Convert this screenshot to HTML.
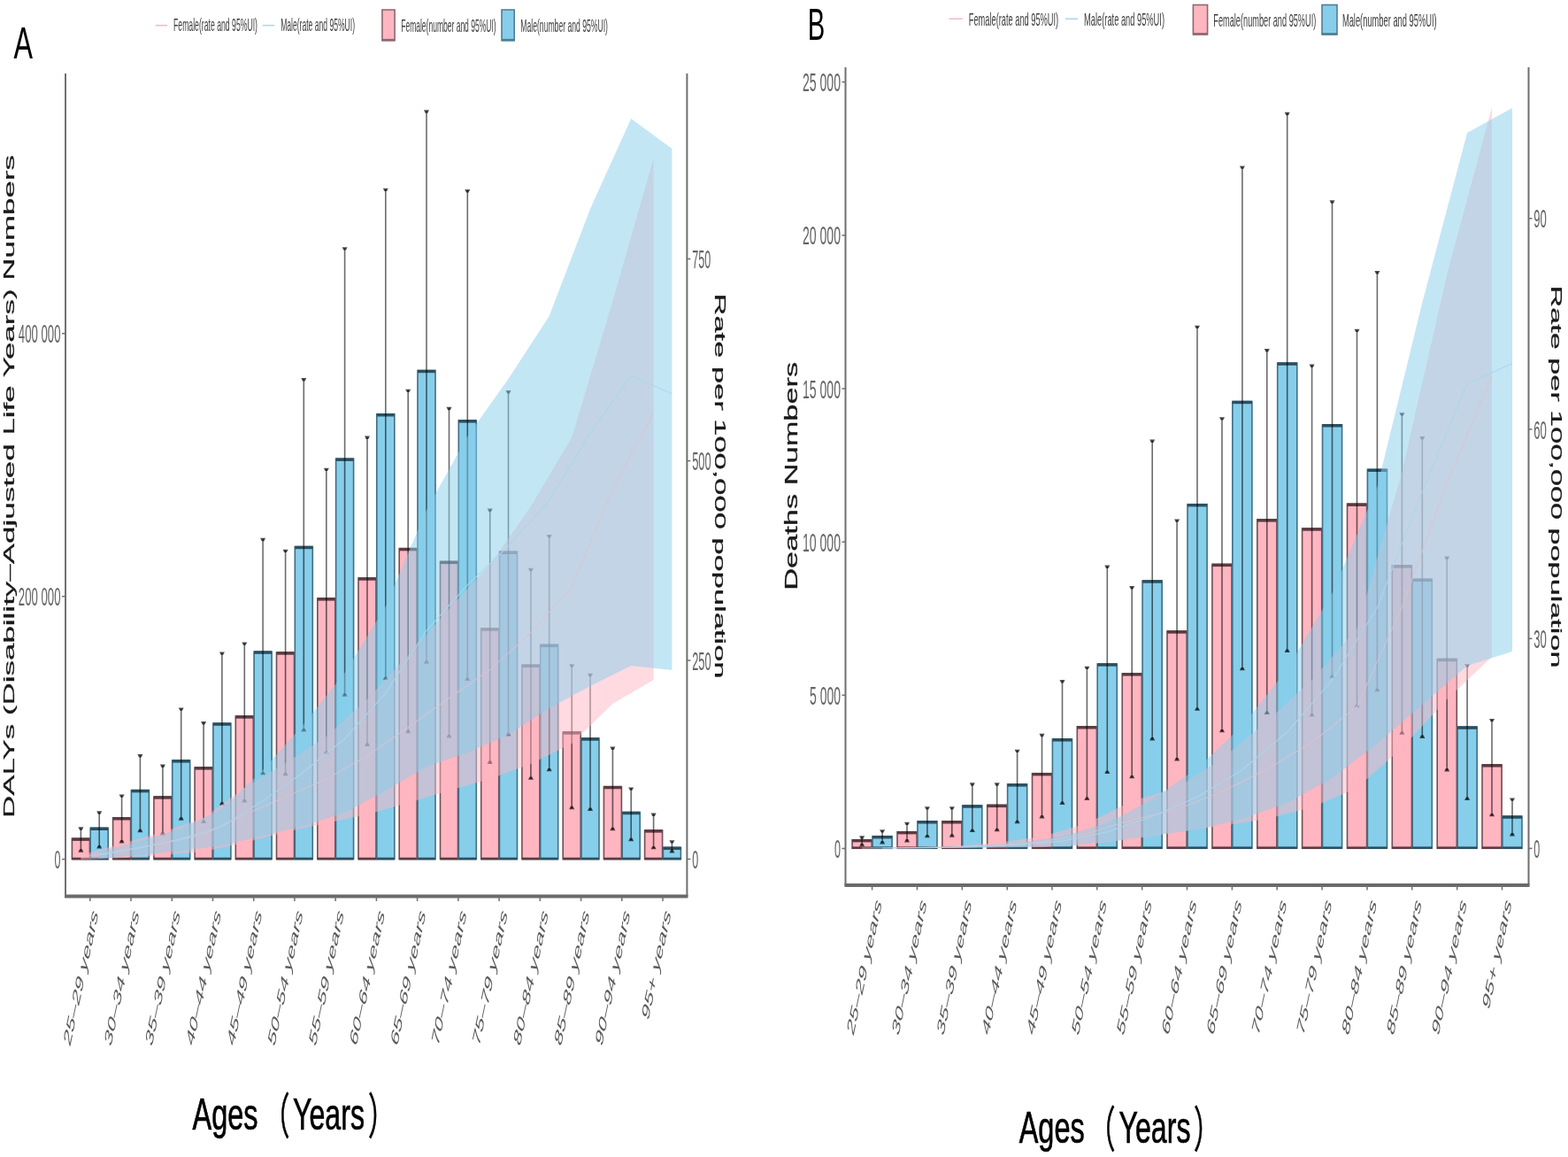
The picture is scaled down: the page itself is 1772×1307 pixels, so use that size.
<!DOCTYPE html><html><head><meta charset="utf-8"><title>Figure</title><style>html,body{margin:0;padding:0;background:#fff;}svg{display:block;filter:blur(0.55px);}</style></head><body>
<svg width="1772" height="1307" viewBox="0 0 1772 1307" font-family="'Liberation Sans', sans-serif">
<rect width="1772" height="1307" fill="#fff"/>
<g>
<rect x="81.4" y="947.2" width="20" height="23.4" fill="#FFB6C1" stroke="#6e4f56" stroke-width="1.6"/>
<line x1="81.4" y1="948.2" x2="101.4" y2="948.2" stroke="#5a3c42" stroke-width="3.4"/>
<line x1="81.4" y1="970" x2="101.4" y2="970" stroke="#5a3c42" stroke-width="2.6"/>
<rect x="102.2" y="935.3" width="20" height="35.3" fill="#87CEEB" stroke="#3f6f84" stroke-width="1.6"/>
<line x1="102.2" y1="936.3" x2="122.2" y2="936.3" stroke="#2c4f5e" stroke-width="3.4"/>
<line x1="102.2" y1="970" x2="122.2" y2="970" stroke="#2c4f5e" stroke-width="2.6"/>
<rect x="127.6" y="923.8" width="20" height="46.8" fill="#FFB6C1" stroke="#6e4f56" stroke-width="1.6"/>
<line x1="127.6" y1="924.8" x2="147.6" y2="924.8" stroke="#5a3c42" stroke-width="3.4"/>
<line x1="127.6" y1="970" x2="147.6" y2="970" stroke="#5a3c42" stroke-width="2.6"/>
<rect x="148.4" y="892.6" width="20" height="78" fill="#87CEEB" stroke="#3f6f84" stroke-width="1.6"/>
<line x1="148.4" y1="893.6" x2="168.4" y2="893.6" stroke="#2c4f5e" stroke-width="3.4"/>
<line x1="148.4" y1="970" x2="168.4" y2="970" stroke="#2c4f5e" stroke-width="2.6"/>
<rect x="173.9" y="900" width="20" height="70.6" fill="#FFB6C1" stroke="#6e4f56" stroke-width="1.6"/>
<line x1="173.9" y1="901" x2="193.9" y2="901" stroke="#5a3c42" stroke-width="3.4"/>
<line x1="173.9" y1="970" x2="193.9" y2="970" stroke="#5a3c42" stroke-width="2.6"/>
<rect x="194.7" y="858.9" width="20" height="111.7" fill="#87CEEB" stroke="#3f6f84" stroke-width="1.6"/>
<line x1="194.7" y1="859.9" x2="214.7" y2="859.9" stroke="#2c4f5e" stroke-width="3.4"/>
<line x1="194.7" y1="970" x2="214.7" y2="970" stroke="#2c4f5e" stroke-width="2.6"/>
<rect x="220.1" y="866.9" width="20" height="103.7" fill="#FFB6C1" stroke="#6e4f56" stroke-width="1.6"/>
<line x1="220.1" y1="867.9" x2="240.1" y2="867.9" stroke="#5a3c42" stroke-width="3.4"/>
<line x1="220.1" y1="970" x2="240.1" y2="970" stroke="#5a3c42" stroke-width="2.6"/>
<rect x="240.9" y="817.1" width="20" height="153.5" fill="#87CEEB" stroke="#3f6f84" stroke-width="1.6"/>
<line x1="240.9" y1="818.1" x2="260.9" y2="818.1" stroke="#2c4f5e" stroke-width="3.4"/>
<line x1="240.9" y1="970" x2="260.9" y2="970" stroke="#2c4f5e" stroke-width="2.6"/>
<rect x="266.3" y="809" width="20" height="161.6" fill="#FFB6C1" stroke="#6e4f56" stroke-width="1.6"/>
<line x1="266.3" y1="810" x2="286.3" y2="810" stroke="#5a3c42" stroke-width="3.4"/>
<line x1="266.3" y1="970" x2="286.3" y2="970" stroke="#5a3c42" stroke-width="2.6"/>
<rect x="287.1" y="736.1" width="20" height="234.5" fill="#87CEEB" stroke="#3f6f84" stroke-width="1.6"/>
<line x1="287.1" y1="737.1" x2="307.1" y2="737.1" stroke="#2c4f5e" stroke-width="3.4"/>
<line x1="287.1" y1="970" x2="307.1" y2="970" stroke="#2c4f5e" stroke-width="2.6"/>
<rect x="312.5" y="737" width="20" height="233.6" fill="#FFB6C1" stroke="#6e4f56" stroke-width="1.6"/>
<line x1="312.5" y1="738" x2="332.6" y2="738" stroke="#5a3c42" stroke-width="3.4"/>
<line x1="312.5" y1="970" x2="332.6" y2="970" stroke="#5a3c42" stroke-width="2.6"/>
<rect x="333.3" y="617.5" width="20" height="353.1" fill="#87CEEB" stroke="#3f6f84" stroke-width="1.6"/>
<line x1="333.3" y1="618.5" x2="353.4" y2="618.5" stroke="#2c4f5e" stroke-width="3.4"/>
<line x1="333.3" y1="970" x2="353.4" y2="970" stroke="#2c4f5e" stroke-width="2.6"/>
<rect x="358.8" y="675.9" width="20" height="294.7" fill="#FFB6C1" stroke="#6e4f56" stroke-width="1.6"/>
<line x1="358.8" y1="676.9" x2="378.8" y2="676.9" stroke="#5a3c42" stroke-width="3.4"/>
<line x1="358.8" y1="970" x2="378.8" y2="970" stroke="#5a3c42" stroke-width="2.6"/>
<rect x="379.6" y="518.2" width="20" height="452.4" fill="#87CEEB" stroke="#3f6f84" stroke-width="1.6"/>
<line x1="379.6" y1="519.2" x2="399.6" y2="519.2" stroke="#2c4f5e" stroke-width="3.4"/>
<line x1="379.6" y1="970" x2="399.6" y2="970" stroke="#2c4f5e" stroke-width="2.6"/>
<rect x="405" y="653" width="20" height="317.6" fill="#FFB6C1" stroke="#6e4f56" stroke-width="1.6"/>
<line x1="405" y1="654" x2="425" y2="654" stroke="#5a3c42" stroke-width="3.4"/>
<line x1="405" y1="970" x2="425" y2="970" stroke="#5a3c42" stroke-width="2.6"/>
<rect x="425.8" y="467.8" width="20" height="502.8" fill="#87CEEB" stroke="#3f6f84" stroke-width="1.6"/>
<line x1="425.8" y1="468.8" x2="445.8" y2="468.8" stroke="#2c4f5e" stroke-width="3.4"/>
<line x1="425.8" y1="970" x2="445.8" y2="970" stroke="#2c4f5e" stroke-width="2.6"/>
<rect x="451.2" y="619.6" width="20" height="351" fill="#FFB6C1" stroke="#6e4f56" stroke-width="1.6"/>
<line x1="451.2" y1="620.6" x2="471.2" y2="620.6" stroke="#5a3c42" stroke-width="3.4"/>
<line x1="451.2" y1="970" x2="471.2" y2="970" stroke="#5a3c42" stroke-width="2.6"/>
<rect x="472" y="418.5" width="20" height="552.1" fill="#87CEEB" stroke="#3f6f84" stroke-width="1.6"/>
<line x1="472" y1="419.5" x2="492" y2="419.5" stroke="#2c4f5e" stroke-width="3.4"/>
<line x1="472" y1="970" x2="492" y2="970" stroke="#2c4f5e" stroke-width="2.6"/>
<rect x="497.5" y="634.4" width="20" height="336.2" fill="#FFB6C1" stroke="#6e4f56" stroke-width="1.6"/>
<line x1="497.5" y1="635.4" x2="517.5" y2="635.4" stroke="#5a3c42" stroke-width="3.4"/>
<line x1="497.5" y1="970" x2="517.5" y2="970" stroke="#5a3c42" stroke-width="2.6"/>
<rect x="518.3" y="474.9" width="20" height="495.7" fill="#87CEEB" stroke="#3f6f84" stroke-width="1.6"/>
<line x1="518.3" y1="475.9" x2="538.3" y2="475.9" stroke="#2c4f5e" stroke-width="3.4"/>
<line x1="518.3" y1="970" x2="538.3" y2="970" stroke="#2c4f5e" stroke-width="2.6"/>
<rect x="543.7" y="710" width="20" height="260.6" fill="#FFB6C1" stroke="#6e4f56" stroke-width="1.6"/>
<line x1="543.7" y1="711" x2="563.7" y2="711" stroke="#5a3c42" stroke-width="3.4"/>
<line x1="543.7" y1="970" x2="563.7" y2="970" stroke="#5a3c42" stroke-width="2.6"/>
<rect x="564.5" y="623.3" width="20" height="347.3" fill="#87CEEB" stroke="#3f6f84" stroke-width="1.6"/>
<line x1="564.5" y1="624.3" x2="584.5" y2="624.3" stroke="#2c4f5e" stroke-width="3.4"/>
<line x1="564.5" y1="970" x2="584.5" y2="970" stroke="#2c4f5e" stroke-width="2.6"/>
<rect x="589.9" y="751.3" width="20" height="219.3" fill="#FFB6C1" stroke="#6e4f56" stroke-width="1.6"/>
<line x1="589.9" y1="752.3" x2="609.9" y2="752.3" stroke="#5a3c42" stroke-width="3.4"/>
<line x1="589.9" y1="970" x2="609.9" y2="970" stroke="#5a3c42" stroke-width="2.6"/>
<rect x="610.7" y="728.4" width="20" height="242.2" fill="#87CEEB" stroke="#3f6f84" stroke-width="1.6"/>
<line x1="610.7" y1="729.4" x2="630.7" y2="729.4" stroke="#2c4f5e" stroke-width="3.4"/>
<line x1="610.7" y1="970" x2="630.7" y2="970" stroke="#2c4f5e" stroke-width="2.6"/>
<rect x="636.2" y="827" width="20" height="143.6" fill="#FFB6C1" stroke="#6e4f56" stroke-width="1.6"/>
<line x1="636.2" y1="828" x2="656.2" y2="828" stroke="#5a3c42" stroke-width="3.4"/>
<line x1="636.2" y1="970" x2="656.2" y2="970" stroke="#5a3c42" stroke-width="2.6"/>
<rect x="657" y="834" width="20" height="136.6" fill="#87CEEB" stroke="#3f6f84" stroke-width="1.6"/>
<line x1="657" y1="835" x2="677" y2="835" stroke="#2c4f5e" stroke-width="3.4"/>
<line x1="657" y1="970" x2="677" y2="970" stroke="#2c4f5e" stroke-width="2.6"/>
<rect x="682.4" y="888.6" width="20" height="82" fill="#FFB6C1" stroke="#6e4f56" stroke-width="1.6"/>
<line x1="682.4" y1="889.6" x2="702.4" y2="889.6" stroke="#5a3c42" stroke-width="3.4"/>
<line x1="682.4" y1="970" x2="702.4" y2="970" stroke="#5a3c42" stroke-width="2.6"/>
<rect x="703.2" y="917.5" width="20" height="53.1" fill="#87CEEB" stroke="#3f6f84" stroke-width="1.6"/>
<line x1="703.2" y1="918.5" x2="723.2" y2="918.5" stroke="#2c4f5e" stroke-width="3.4"/>
<line x1="703.2" y1="970" x2="723.2" y2="970" stroke="#2c4f5e" stroke-width="2.6"/>
<rect x="728.6" y="937.9" width="20" height="32.7" fill="#FFB6C1" stroke="#6e4f56" stroke-width="1.6"/>
<line x1="728.6" y1="938.9" x2="748.6" y2="938.9" stroke="#5a3c42" stroke-width="3.4"/>
<line x1="728.6" y1="970" x2="748.6" y2="970" stroke="#5a3c42" stroke-width="2.6"/>
<rect x="749.4" y="957.3" width="20" height="13.3" fill="#87CEEB" stroke="#3f6f84" stroke-width="1.6"/>
<line x1="749.4" y1="958.3" x2="769.4" y2="958.3" stroke="#2c4f5e" stroke-width="3.4"/>
<line x1="749.4" y1="970" x2="769.4" y2="970" stroke="#2c4f5e" stroke-width="2.6"/>
</g>
<g stroke="#000" stroke-opacity="0.58" fill="#000" fill-opacity="0.68">
<line x1="91.4" y1="935.3" x2="91.4" y2="961.7" stroke-width="1.6"/>
<path d="M88.4 934.3h6l-1.6 3.4h-2.8z" stroke="none"/>
<path d="M88.4 962.7h6l-1.6 -3.4h-2.8z" stroke="none"/>
<line x1="112.2" y1="917.3" x2="112.2" y2="957.5" stroke-width="1.6"/>
<path d="M109.2 916.3h6l-1.6 3.4h-2.8z" stroke="none"/>
<path d="M109.2 958.5h6l-1.6 -3.4h-2.8z" stroke="none"/>
<line x1="137.6" y1="898.4" x2="137.6" y2="951.4" stroke-width="1.6"/>
<path d="M134.6 897.4h6l-1.6 3.4h-2.8z" stroke="none"/>
<path d="M134.6 952.4h6l-1.6 -3.4h-2.8z" stroke="none"/>
<line x1="158.4" y1="853.1" x2="158.4" y2="939.2" stroke-width="1.6"/>
<path d="M155.4 852.1h6l-1.6 3.4h-2.8z" stroke="none"/>
<path d="M155.4 940.2h6l-1.6 -3.4h-2.8z" stroke="none"/>
<line x1="183.9" y1="864.6" x2="183.9" y2="942.4" stroke-width="1.6"/>
<path d="M180.9 863.6h6l-1.6 3.4h-2.8z" stroke="none"/>
<path d="M180.9 943.4h6l-1.6 -3.4h-2.8z" stroke="none"/>
<line x1="204.7" y1="800.4" x2="204.7" y2="925.7" stroke-width="1.6"/>
<path d="M201.7 799.4h6l-1.6 3.4h-2.8z" stroke="none"/>
<path d="M201.7 926.7h6l-1.6 -3.4h-2.8z" stroke="none"/>
<line x1="230.1" y1="816.1" x2="230.1" y2="928.9" stroke-width="1.6"/>
<path d="M227.1 815.1h6l-1.6 3.4h-2.8z" stroke="none"/>
<path d="M227.1 929.9h6l-1.6 -3.4h-2.8z" stroke="none"/>
<line x1="250.9" y1="737.4" x2="250.9" y2="908.6" stroke-width="1.6"/>
<path d="M247.9 736.4h6l-1.6 3.4h-2.8z" stroke="none"/>
<path d="M247.9 909.6h6l-1.6 -3.4h-2.8z" stroke="none"/>
<line x1="276.3" y1="726.4" x2="276.3" y2="905.5" stroke-width="1.6"/>
<path d="M273.3 725.4h6l-1.6 3.4h-2.8z" stroke="none"/>
<path d="M273.3 906.5h6l-1.6 -3.4h-2.8z" stroke="none"/>
<line x1="297.1" y1="608.8" x2="297.1" y2="874.3" stroke-width="1.6"/>
<path d="M294.1 607.8h6l-1.6 3.4h-2.8z" stroke="none"/>
<path d="M294.1 875.3h6l-1.6 -3.4h-2.8z" stroke="none"/>
<line x1="322.6" y1="621.7" x2="322.6" y2="875.2" stroke-width="1.6"/>
<path d="M319.6 620.7h6l-1.6 3.4h-2.8z" stroke="none"/>
<path d="M319.6 876.2h6l-1.6 -3.4h-2.8z" stroke="none"/>
<line x1="343.3" y1="428" x2="343.3" y2="825.4" stroke-width="1.6"/>
<path d="M340.3 427h6l-1.6 3.4h-2.8z" stroke="none"/>
<path d="M340.3 826.4h6l-1.6 -3.4h-2.8z" stroke="none"/>
<line x1="368.8" y1="529.7" x2="368.8" y2="850.8" stroke-width="1.6"/>
<path d="M365.8 528.7h6l-1.6 3.4h-2.8z" stroke="none"/>
<path d="M365.8 851.8h6l-1.6 -3.4h-2.8z" stroke="none"/>
<line x1="389.6" y1="280.2" x2="389.6" y2="785.7" stroke-width="1.6"/>
<path d="M386.6 279.2h6l-1.6 3.4h-2.8z" stroke="none"/>
<path d="M386.6 786.7h6l-1.6 -3.4h-2.8z" stroke="none"/>
<line x1="415" y1="493.5" x2="415" y2="842" stroke-width="1.6"/>
<path d="M412 492.5h6l-1.6 3.4h-2.8z" stroke="none"/>
<path d="M412 843h6l-1.6 -3.4h-2.8z" stroke="none"/>
<line x1="435.8" y1="213.7" x2="435.8" y2="767" stroke-width="1.6"/>
<path d="M432.8 212.7h6l-1.6 3.4h-2.8z" stroke="none"/>
<path d="M432.8 768h6l-1.6 -3.4h-2.8z" stroke="none"/>
<line x1="461.2" y1="440.7" x2="461.2" y2="827.2" stroke-width="1.6"/>
<path d="M458.2 439.7h6l-1.6 3.4h-2.8z" stroke="none"/>
<path d="M458.2 828.2h6l-1.6 -3.4h-2.8z" stroke="none"/>
<line x1="482" y1="125.3" x2="482" y2="748.7" stroke-width="1.6"/>
<path d="M479 124.3h6l-1.6 3.4h-2.8z" stroke="none"/>
<path d="M479 749.7h6l-1.6 -3.4h-2.8z" stroke="none"/>
<line x1="507.5" y1="460.8" x2="507.5" y2="832.5" stroke-width="1.6"/>
<path d="M504.5 459.8h6l-1.6 3.4h-2.8z" stroke="none"/>
<path d="M504.5 833.5h6l-1.6 -3.4h-2.8z" stroke="none"/>
<line x1="528.3" y1="215.1" x2="528.3" y2="768" stroke-width="1.6"/>
<path d="M525.3 214.1h6l-1.6 3.4h-2.8z" stroke="none"/>
<path d="M525.3 769h6l-1.6 -3.4h-2.8z" stroke="none"/>
<line x1="553.7" y1="575.6" x2="553.7" y2="862" stroke-width="1.6"/>
<path d="M550.7 574.6h6l-1.6 3.4h-2.8z" stroke="none"/>
<path d="M550.7 863h6l-1.6 -3.4h-2.8z" stroke="none"/>
<line x1="574.5" y1="442" x2="574.5" y2="830.5" stroke-width="1.6"/>
<path d="M571.5 441h6l-1.6 3.4h-2.8z" stroke="none"/>
<path d="M571.5 831.5h6l-1.6 -3.4h-2.8z" stroke="none"/>
<line x1="599.9" y1="642.8" x2="599.9" y2="879.8" stroke-width="1.6"/>
<path d="M596.9 641.8h6l-1.6 3.4h-2.8z" stroke="none"/>
<path d="M596.9 880.8h6l-1.6 -3.4h-2.8z" stroke="none"/>
<line x1="620.7" y1="605.1" x2="620.7" y2="870.3" stroke-width="1.6"/>
<path d="M617.7 604.1h6l-1.6 3.4h-2.8z" stroke="none"/>
<path d="M617.7 871.3h6l-1.6 -3.4h-2.8z" stroke="none"/>
<line x1="646.2" y1="751.3" x2="646.2" y2="913.2" stroke-width="1.6"/>
<path d="M643.2 750.3h6l-1.6 3.4h-2.8z" stroke="none"/>
<path d="M643.2 914.2h6l-1.6 -3.4h-2.8z" stroke="none"/>
<line x1="667" y1="761.8" x2="667" y2="915" stroke-width="1.6"/>
<path d="M664 760.8h6l-1.6 3.4h-2.8z" stroke="none"/>
<path d="M664 916h6l-1.6 -3.4h-2.8z" stroke="none"/>
<line x1="692.4" y1="844.6" x2="692.4" y2="937.2" stroke-width="1.6"/>
<path d="M689.4 843.6h6l-1.6 3.4h-2.8z" stroke="none"/>
<path d="M689.4 938.2h6l-1.6 -3.4h-2.8z" stroke="none"/>
<line x1="713.2" y1="890.4" x2="713.2" y2="949.2" stroke-width="1.6"/>
<path d="M710.2 889.4h6l-1.6 3.4h-2.8z" stroke="none"/>
<path d="M710.2 950.2h6l-1.6 -3.4h-2.8z" stroke="none"/>
<line x1="738.6" y1="919.6" x2="738.6" y2="958.3" stroke-width="1.6"/>
<path d="M735.6 918.6h6l-1.6 3.4h-2.8z" stroke="none"/>
<path d="M735.6 959.3h6l-1.6 -3.4h-2.8z" stroke="none"/>
<line x1="759.4" y1="950.2" x2="759.4" y2="962.5" stroke-width="1.6"/>
<path d="M756.4 949.2h6l-1.6 3.4h-2.8z" stroke="none"/>
<path d="M756.4 963.5h6l-1.6 -3.4h-2.8z" stroke="none"/>
</g>
<polygon points="91.4,966 137.6,953 183.9,940 230.1,924 276.3,890 322.6,862 368.8,832 415,790 461.2,740 507.5,688 553.7,638 599.9,572 646.2,494 692.4,340 738.6,179 738.6,768 692.4,795 646.2,840 599.9,863 553.7,880 507.5,893 461.2,907 415,920 368.8,930 322.6,940 276.3,952 230.1,962 183.9,966 137.6,969 91.4,971" fill="#FFB6C1" fill-opacity="0.5"/>
<polygon points="112.2,962 158.4,950 204.7,936 250.9,914 297.1,870 343.3,818 389.6,760 435.8,685 482,576 528.3,493 574.5,428 620.7,357 667,236 713.2,134 759.4,168 759.4,757 713.2,752 667,775 620.7,800 574.5,830 528.3,850 482,866 435.8,893 389.6,918 343.3,933 297.1,944 250.9,955 204.7,961 158.4,966 112.2,970" fill="#87CEEB" fill-opacity="0.5"/>
<polyline points="91.4,968.5 137.6,960.8 183.9,952.7 230.1,942.6 276.3,920.4 322.6,900.2 368.8,880 415,853.7 461.2,821.8 507.5,788.5 553.7,756.6 599.9,714.6 646.2,663.5 692.4,552 738.6,466" fill="none" stroke="#dcc3cf" stroke-opacity="0.75" stroke-width="1.2"/>
<polyline points="112.2,965.8 158.4,957.5 204.7,947.8 250.9,933.3 297.1,904.8 343.3,872 389.6,834.3 435.8,782.8 482,712.3 528.3,660.8 574.5,616.9 620.7,565.2 667,489.3 713.2,424.5 759.4,444.8" fill="none" stroke="#a9d7ec" stroke-opacity="0.85" stroke-width="1.2"/>
<g stroke="#6f6f6f" fill="none">
<line x1="74" y1="83" x2="74" y2="1013" stroke-width="2"/>
<line x1="776.4" y1="83" x2="776.4" y2="1013" stroke-width="2"/>
<line x1="73" y1="1012.5" x2="777.4" y2="1012.5" stroke="#6a6a6a" stroke-width="4"/>
<line x1="101.8" y1="1013" x2="101.8" y2="1018" stroke-width="1.5"/>
<line x1="148" y1="1013" x2="148" y2="1018" stroke-width="1.5"/>
<line x1="194.3" y1="1013" x2="194.3" y2="1018" stroke-width="1.5"/>
<line x1="240.5" y1="1013" x2="240.5" y2="1018" stroke-width="1.5"/>
<line x1="286.7" y1="1013" x2="286.7" y2="1018" stroke-width="1.5"/>
<line x1="332.9" y1="1013" x2="332.9" y2="1018" stroke-width="1.5"/>
<line x1="379.2" y1="1013" x2="379.2" y2="1018" stroke-width="1.5"/>
<line x1="425.4" y1="1013" x2="425.4" y2="1018" stroke-width="1.5"/>
<line x1="471.6" y1="1013" x2="471.6" y2="1018" stroke-width="1.5"/>
<line x1="517.9" y1="1013" x2="517.9" y2="1018" stroke-width="1.5"/>
<line x1="564.1" y1="1013" x2="564.1" y2="1018" stroke-width="1.5"/>
<line x1="610.3" y1="1013" x2="610.3" y2="1018" stroke-width="1.5"/>
<line x1="656.6" y1="1013" x2="656.6" y2="1018" stroke-width="1.5"/>
<line x1="702.8" y1="1013" x2="702.8" y2="1018" stroke-width="1.5"/>
<line x1="749" y1="1013" x2="749" y2="1018" stroke-width="1.5"/>
<line x1="70" y1="970.6" x2="74" y2="970.6" stroke-width="1.5"/>
<line x1="70" y1="673.7" x2="74" y2="673.7" stroke-width="1.5"/>
<line x1="70" y1="376.7" x2="74" y2="376.7" stroke-width="1.5"/>
<line x1="776.4" y1="970.5" x2="780.4" y2="970.5" stroke-width="1.5"/>
<line x1="776.4" y1="746" x2="780.4" y2="746" stroke-width="1.5"/>
<line x1="776.4" y1="520.6" x2="780.4" y2="520.6" stroke-width="1.5"/>
<line x1="776.4" y1="292.5" x2="780.4" y2="292.5" stroke-width="1.5"/>
</g>
<text x="68.5" y="980.9" font-size="29" text-anchor="end" fill="#646464" textLength="7" lengthAdjust="spacingAndGlyphs" >0</text>
<text x="68.5" y="684" font-size="29" text-anchor="end" fill="#646464" textLength="47.7" lengthAdjust="spacingAndGlyphs" >200 000</text>
<text x="68.5" y="387" font-size="29" text-anchor="end" fill="#646464" textLength="47.7" lengthAdjust="spacingAndGlyphs" >400 000</text>
<text x="782.2" y="981.1" font-size="30" text-anchor="start" fill="#646464" textLength="7" lengthAdjust="spacingAndGlyphs" >0</text>
<text x="782.2" y="756.6" font-size="30" text-anchor="start" fill="#646464" textLength="21.5" lengthAdjust="spacingAndGlyphs" >250</text>
<text x="782.2" y="531.2" font-size="30" text-anchor="start" fill="#646464" textLength="21.5" lengthAdjust="spacingAndGlyphs" >500</text>
<text x="782.2" y="303.1" font-size="30" text-anchor="start" fill="#646464" textLength="21" lengthAdjust="spacingAndGlyphs" >750</text>
<text transform="matrix(0.1929 -0.8988 0.3955 0.4384 111.3 1033)" font-size="28" text-anchor="end" fill="#5a5a5a" textLength="167.5" lengthAdjust="spacingAndGlyphs">25–29 years</text>
<text transform="matrix(0.1929 -0.8988 0.3955 0.4384 157.5 1033)" font-size="28" text-anchor="end" fill="#5a5a5a" textLength="167.5" lengthAdjust="spacingAndGlyphs">30–34 years</text>
<text transform="matrix(0.1929 -0.8988 0.3955 0.4384 203.8 1033)" font-size="28" text-anchor="end" fill="#5a5a5a" textLength="167.5" lengthAdjust="spacingAndGlyphs">35–39 years</text>
<text transform="matrix(0.1929 -0.8988 0.3955 0.4384 250 1033)" font-size="28" text-anchor="end" fill="#5a5a5a" textLength="167.5" lengthAdjust="spacingAndGlyphs">40–44 years</text>
<text transform="matrix(0.1929 -0.8988 0.3955 0.4384 296.2 1033)" font-size="28" text-anchor="end" fill="#5a5a5a" textLength="167.5" lengthAdjust="spacingAndGlyphs">45–49 years</text>
<text transform="matrix(0.1929 -0.8988 0.3955 0.4384 342.4 1033)" font-size="28" text-anchor="end" fill="#5a5a5a" textLength="167.5" lengthAdjust="spacingAndGlyphs">50–54 years</text>
<text transform="matrix(0.1929 -0.8988 0.3955 0.4384 388.7 1033)" font-size="28" text-anchor="end" fill="#5a5a5a" textLength="167.5" lengthAdjust="spacingAndGlyphs">55–59 years</text>
<text transform="matrix(0.1929 -0.8988 0.3955 0.4384 434.9 1033)" font-size="28" text-anchor="end" fill="#5a5a5a" textLength="167.5" lengthAdjust="spacingAndGlyphs">60–64 years</text>
<text transform="matrix(0.1929 -0.8988 0.3955 0.4384 481.1 1033)" font-size="28" text-anchor="end" fill="#5a5a5a" textLength="167.5" lengthAdjust="spacingAndGlyphs">65–69 years</text>
<text transform="matrix(0.1929 -0.8988 0.3955 0.4384 527.4 1033)" font-size="28" text-anchor="end" fill="#5a5a5a" textLength="167.5" lengthAdjust="spacingAndGlyphs">70–74 years</text>
<text transform="matrix(0.1929 -0.8988 0.3955 0.4384 573.6 1033)" font-size="28" text-anchor="end" fill="#5a5a5a" textLength="167.5" lengthAdjust="spacingAndGlyphs">75–79 years</text>
<text transform="matrix(0.1929 -0.8988 0.3955 0.4384 619.8 1033)" font-size="28" text-anchor="end" fill="#5a5a5a" textLength="167.5" lengthAdjust="spacingAndGlyphs">80–84 years</text>
<text transform="matrix(0.1929 -0.8988 0.3955 0.4384 666.1 1033)" font-size="28" text-anchor="end" fill="#5a5a5a" textLength="167.5" lengthAdjust="spacingAndGlyphs">85–89 years</text>
<text transform="matrix(0.1929 -0.8988 0.3955 0.4384 712.3 1033)" font-size="28" text-anchor="end" fill="#5a5a5a" textLength="167.5" lengthAdjust="spacingAndGlyphs">90–94 years</text>
<text transform="matrix(0.1929 -0.8988 0.3955 0.4384 758.5 1033)" font-size="28" text-anchor="end" fill="#5a5a5a" textLength="134.9" lengthAdjust="spacingAndGlyphs">95+ years</text>
<g>
<rect x="963.1" y="948.7" width="22.1" height="9.6" fill="#FFB6C1" stroke="#6e4f56" stroke-width="1.6"/>
<line x1="963.1" y1="949.7" x2="985.2" y2="949.7" stroke="#5a3c42" stroke-width="3.4"/>
<line x1="963.1" y1="957.7" x2="985.2" y2="957.7" stroke="#5a3c42" stroke-width="2.6"/>
<rect x="986" y="944.7" width="22.1" height="13.6" fill="#87CEEB" stroke="#3f6f84" stroke-width="1.6"/>
<line x1="986" y1="945.7" x2="1008.1" y2="945.7" stroke="#2c4f5e" stroke-width="3.4"/>
<line x1="986" y1="957.7" x2="1008.1" y2="957.7" stroke="#2c4f5e" stroke-width="2.6"/>
<rect x="1014" y="939.7" width="22.1" height="18.6" fill="#FFB6C1" stroke="#6e4f56" stroke-width="1.6"/>
<line x1="1014" y1="940.7" x2="1036" y2="940.7" stroke="#5a3c42" stroke-width="3.4"/>
<line x1="1014" y1="957.7" x2="1036" y2="957.7" stroke="#5a3c42" stroke-width="2.6"/>
<rect x="1036.9" y="927.8" width="22.1" height="30.5" fill="#87CEEB" stroke="#3f6f84" stroke-width="1.6"/>
<line x1="1036.9" y1="928.8" x2="1059" y2="928.8" stroke="#2c4f5e" stroke-width="3.4"/>
<line x1="1036.9" y1="957.7" x2="1059" y2="957.7" stroke="#2c4f5e" stroke-width="2.6"/>
<rect x="1064.8" y="927.8" width="22.1" height="30.5" fill="#FFB6C1" stroke="#6e4f56" stroke-width="1.6"/>
<line x1="1064.8" y1="928.8" x2="1086.9" y2="928.8" stroke="#5a3c42" stroke-width="3.4"/>
<line x1="1064.8" y1="957.7" x2="1086.9" y2="957.7" stroke="#5a3c42" stroke-width="2.6"/>
<rect x="1087.7" y="910" width="22.1" height="48.3" fill="#87CEEB" stroke="#3f6f84" stroke-width="1.6"/>
<line x1="1087.7" y1="911" x2="1109.8" y2="911" stroke="#2c4f5e" stroke-width="3.4"/>
<line x1="1087.7" y1="957.7" x2="1109.8" y2="957.7" stroke="#2c4f5e" stroke-width="2.6"/>
<rect x="1115.7" y="909.4" width="22.1" height="48.9" fill="#FFB6C1" stroke="#6e4f56" stroke-width="1.6"/>
<line x1="1115.7" y1="910.4" x2="1137.8" y2="910.4" stroke="#5a3c42" stroke-width="3.4"/>
<line x1="1115.7" y1="957.7" x2="1137.8" y2="957.7" stroke="#5a3c42" stroke-width="2.6"/>
<rect x="1138.6" y="885.9" width="22.1" height="72.4" fill="#87CEEB" stroke="#3f6f84" stroke-width="1.6"/>
<line x1="1138.6" y1="886.9" x2="1160.7" y2="886.9" stroke="#2c4f5e" stroke-width="3.4"/>
<line x1="1138.6" y1="957.7" x2="1160.7" y2="957.7" stroke="#2c4f5e" stroke-width="2.6"/>
<rect x="1166.5" y="873.7" width="22.1" height="84.6" fill="#FFB6C1" stroke="#6e4f56" stroke-width="1.6"/>
<line x1="1166.5" y1="874.7" x2="1188.6" y2="874.7" stroke="#5a3c42" stroke-width="3.4"/>
<line x1="1166.5" y1="957.7" x2="1188.6" y2="957.7" stroke="#5a3c42" stroke-width="2.6"/>
<rect x="1189.4" y="834.9" width="22.1" height="123.4" fill="#87CEEB" stroke="#3f6f84" stroke-width="1.6"/>
<line x1="1189.4" y1="835.9" x2="1211.5" y2="835.9" stroke="#2c4f5e" stroke-width="3.4"/>
<line x1="1189.4" y1="957.7" x2="1211.5" y2="957.7" stroke="#2c4f5e" stroke-width="2.6"/>
<rect x="1217.3" y="820.8" width="22.1" height="137.5" fill="#FFB6C1" stroke="#6e4f56" stroke-width="1.6"/>
<line x1="1217.3" y1="821.8" x2="1239.4" y2="821.8" stroke="#5a3c42" stroke-width="3.4"/>
<line x1="1217.3" y1="957.7" x2="1239.4" y2="957.7" stroke="#5a3c42" stroke-width="2.6"/>
<rect x="1240.2" y="750" width="22.1" height="208.3" fill="#87CEEB" stroke="#3f6f84" stroke-width="1.6"/>
<line x1="1240.2" y1="751" x2="1262.3" y2="751" stroke="#2c4f5e" stroke-width="3.4"/>
<line x1="1240.2" y1="957.7" x2="1262.3" y2="957.7" stroke="#2c4f5e" stroke-width="2.6"/>
<rect x="1268.2" y="760.9" width="22.1" height="197.4" fill="#FFB6C1" stroke="#6e4f56" stroke-width="1.6"/>
<line x1="1268.2" y1="761.9" x2="1290.3" y2="761.9" stroke="#5a3c42" stroke-width="3.4"/>
<line x1="1268.2" y1="957.7" x2="1290.3" y2="957.7" stroke="#5a3c42" stroke-width="2.6"/>
<rect x="1291.1" y="656" width="22.1" height="302.3" fill="#87CEEB" stroke="#3f6f84" stroke-width="1.6"/>
<line x1="1291.1" y1="657" x2="1313.2" y2="657" stroke="#2c4f5e" stroke-width="3.4"/>
<line x1="1291.1" y1="957.7" x2="1313.2" y2="957.7" stroke="#2c4f5e" stroke-width="2.6"/>
<rect x="1319" y="713" width="22.1" height="245.3" fill="#FFB6C1" stroke="#6e4f56" stroke-width="1.6"/>
<line x1="1319" y1="714" x2="1341.1" y2="714" stroke="#5a3c42" stroke-width="3.4"/>
<line x1="1319" y1="957.7" x2="1341.1" y2="957.7" stroke="#5a3c42" stroke-width="2.6"/>
<rect x="1342" y="569.7" width="22.1" height="388.6" fill="#87CEEB" stroke="#3f6f84" stroke-width="1.6"/>
<line x1="1342" y1="570.7" x2="1364" y2="570.7" stroke="#2c4f5e" stroke-width="3.4"/>
<line x1="1342" y1="957.7" x2="1364" y2="957.7" stroke="#2c4f5e" stroke-width="2.6"/>
<rect x="1369.9" y="637.4" width="22.1" height="320.9" fill="#FFB6C1" stroke="#6e4f56" stroke-width="1.6"/>
<line x1="1369.9" y1="638.4" x2="1392" y2="638.4" stroke="#5a3c42" stroke-width="3.4"/>
<line x1="1369.9" y1="957.7" x2="1392" y2="957.7" stroke="#5a3c42" stroke-width="2.6"/>
<rect x="1392.8" y="453.5" width="22.1" height="504.8" fill="#87CEEB" stroke="#3f6f84" stroke-width="1.6"/>
<line x1="1392.8" y1="454.5" x2="1414.9" y2="454.5" stroke="#2c4f5e" stroke-width="3.4"/>
<line x1="1392.8" y1="957.7" x2="1414.9" y2="957.7" stroke="#2c4f5e" stroke-width="2.6"/>
<rect x="1420.8" y="586.9" width="22.1" height="371.4" fill="#FFB6C1" stroke="#6e4f56" stroke-width="1.6"/>
<line x1="1420.8" y1="587.9" x2="1442.8" y2="587.9" stroke="#5a3c42" stroke-width="3.4"/>
<line x1="1420.8" y1="957.7" x2="1442.8" y2="957.7" stroke="#5a3c42" stroke-width="2.6"/>
<rect x="1443.7" y="410.1" width="22.1" height="548.2" fill="#87CEEB" stroke="#3f6f84" stroke-width="1.6"/>
<line x1="1443.7" y1="411.1" x2="1465.8" y2="411.1" stroke="#2c4f5e" stroke-width="3.4"/>
<line x1="1443.7" y1="957.7" x2="1465.8" y2="957.7" stroke="#2c4f5e" stroke-width="2.6"/>
<rect x="1471.6" y="597" width="22.1" height="361.3" fill="#FFB6C1" stroke="#6e4f56" stroke-width="1.6"/>
<line x1="1471.6" y1="598" x2="1493.7" y2="598" stroke="#5a3c42" stroke-width="3.4"/>
<line x1="1471.6" y1="957.7" x2="1493.7" y2="957.7" stroke="#5a3c42" stroke-width="2.6"/>
<rect x="1494.5" y="479.8" width="22.1" height="478.5" fill="#87CEEB" stroke="#3f6f84" stroke-width="1.6"/>
<line x1="1494.5" y1="480.8" x2="1516.6" y2="480.8" stroke="#2c4f5e" stroke-width="3.4"/>
<line x1="1494.5" y1="957.7" x2="1516.6" y2="957.7" stroke="#2c4f5e" stroke-width="2.6"/>
<rect x="1522.5" y="569.2" width="22.1" height="389.1" fill="#FFB6C1" stroke="#6e4f56" stroke-width="1.6"/>
<line x1="1522.5" y1="570.2" x2="1544.5" y2="570.2" stroke="#5a3c42" stroke-width="3.4"/>
<line x1="1522.5" y1="957.7" x2="1544.5" y2="957.7" stroke="#5a3c42" stroke-width="2.6"/>
<rect x="1545.4" y="530.3" width="22.1" height="428" fill="#87CEEB" stroke="#3f6f84" stroke-width="1.6"/>
<line x1="1545.4" y1="531.3" x2="1567.5" y2="531.3" stroke="#2c4f5e" stroke-width="3.4"/>
<line x1="1545.4" y1="957.7" x2="1567.5" y2="957.7" stroke="#2c4f5e" stroke-width="2.6"/>
<rect x="1573.3" y="638.9" width="22.1" height="319.4" fill="#FFB6C1" stroke="#6e4f56" stroke-width="1.6"/>
<line x1="1573.3" y1="639.9" x2="1595.4" y2="639.9" stroke="#5a3c42" stroke-width="3.4"/>
<line x1="1573.3" y1="957.7" x2="1595.4" y2="957.7" stroke="#5a3c42" stroke-width="2.6"/>
<rect x="1596.2" y="654.3" width="22.1" height="304" fill="#87CEEB" stroke="#3f6f84" stroke-width="1.6"/>
<line x1="1596.2" y1="655.3" x2="1618.3" y2="655.3" stroke="#2c4f5e" stroke-width="3.4"/>
<line x1="1596.2" y1="957.7" x2="1618.3" y2="957.7" stroke="#2c4f5e" stroke-width="2.6"/>
<rect x="1624.2" y="744.5" width="22.1" height="213.8" fill="#FFB6C1" stroke="#6e4f56" stroke-width="1.6"/>
<line x1="1624.2" y1="745.5" x2="1646.2" y2="745.5" stroke="#5a3c42" stroke-width="3.4"/>
<line x1="1624.2" y1="957.7" x2="1646.2" y2="957.7" stroke="#5a3c42" stroke-width="2.6"/>
<rect x="1647.1" y="821.1" width="22.1" height="137.2" fill="#87CEEB" stroke="#3f6f84" stroke-width="1.6"/>
<line x1="1647.1" y1="822.1" x2="1669.2" y2="822.1" stroke="#2c4f5e" stroke-width="3.4"/>
<line x1="1647.1" y1="957.7" x2="1669.2" y2="957.7" stroke="#2c4f5e" stroke-width="2.6"/>
<rect x="1675" y="863.9" width="22.1" height="94.4" fill="#FFB6C1" stroke="#6e4f56" stroke-width="1.6"/>
<line x1="1675" y1="864.9" x2="1697.1" y2="864.9" stroke="#5a3c42" stroke-width="3.4"/>
<line x1="1675" y1="957.7" x2="1697.1" y2="957.7" stroke="#5a3c42" stroke-width="2.6"/>
<rect x="1697.9" y="922.1" width="22.1" height="36.2" fill="#87CEEB" stroke="#3f6f84" stroke-width="1.6"/>
<line x1="1697.9" y1="923.1" x2="1720" y2="923.1" stroke="#2c4f5e" stroke-width="3.4"/>
<line x1="1697.9" y1="957.7" x2="1720" y2="957.7" stroke="#2c4f5e" stroke-width="2.6"/>
</g>
<g stroke="#000" stroke-opacity="0.58" fill="#000" fill-opacity="0.68">
<line x1="974.1" y1="945.3" x2="974.1" y2="955.2" stroke-width="1.6"/>
<path d="M971.1 944.3h6l-1.6 3.4h-2.8z" stroke="none"/>
<path d="M971.1 956.2h6l-1.6 -3.4h-2.8z" stroke="none"/>
<line x1="997.1" y1="938.2" x2="997.1" y2="952.4" stroke-width="1.6"/>
<path d="M994.1 937.2h6l-1.6 3.4h-2.8z" stroke="none"/>
<path d="M994.1 953.4h6l-1.6 -3.4h-2.8z" stroke="none"/>
<line x1="1025" y1="929.7" x2="1025" y2="950.4" stroke-width="1.6"/>
<path d="M1022 928.7h6l-1.6 3.4h-2.8z" stroke="none"/>
<path d="M1022 951.4h6l-1.6 -3.4h-2.8z" stroke="none"/>
<line x1="1047.9" y1="912.2" x2="1047.9" y2="945.3" stroke-width="1.6"/>
<path d="M1044.9 911.2h6l-1.6 3.4h-2.8z" stroke="none"/>
<path d="M1044.9 946.3h6l-1.6 -3.4h-2.8z" stroke="none"/>
<line x1="1075.8" y1="912.2" x2="1075.8" y2="944.7" stroke-width="1.6"/>
<path d="M1072.8 911.2h6l-1.6 3.4h-2.8z" stroke="none"/>
<path d="M1072.8 945.7h6l-1.6 -3.4h-2.8z" stroke="none"/>
<line x1="1098.8" y1="885.3" x2="1098.8" y2="939.1" stroke-width="1.6"/>
<path d="M1095.8 884.3h6l-1.6 3.4h-2.8z" stroke="none"/>
<path d="M1095.8 940.1h6l-1.6 -3.4h-2.8z" stroke="none"/>
<line x1="1126.7" y1="885.3" x2="1126.7" y2="938.2" stroke-width="1.6"/>
<path d="M1123.7 884.3h6l-1.6 3.4h-2.8z" stroke="none"/>
<path d="M1123.7 939.2h6l-1.6 -3.4h-2.8z" stroke="none"/>
<line x1="1149.6" y1="847.7" x2="1149.6" y2="929.2" stroke-width="1.6"/>
<path d="M1146.6 846.7h6l-1.6 3.4h-2.8z" stroke="none"/>
<path d="M1146.6 930.2h6l-1.6 -3.4h-2.8z" stroke="none"/>
<line x1="1177.5" y1="829.8" x2="1177.5" y2="923.5" stroke-width="1.6"/>
<path d="M1174.5 828.8h6l-1.6 3.4h-2.8z" stroke="none"/>
<path d="M1174.5 924.5h6l-1.6 -3.4h-2.8z" stroke="none"/>
<line x1="1200.5" y1="769" x2="1200.5" y2="908" stroke-width="1.6"/>
<path d="M1197.5 768h6l-1.6 3.4h-2.8z" stroke="none"/>
<path d="M1197.5 909h6l-1.6 -3.4h-2.8z" stroke="none"/>
<line x1="1228.4" y1="753.7" x2="1228.4" y2="902.9" stroke-width="1.6"/>
<path d="M1225.4 752.7h6l-1.6 3.4h-2.8z" stroke="none"/>
<path d="M1225.4 903.9h6l-1.6 -3.4h-2.8z" stroke="none"/>
<line x1="1251.3" y1="639.6" x2="1251.3" y2="873.1" stroke-width="1.6"/>
<path d="M1248.3 638.6h6l-1.6 3.4h-2.8z" stroke="none"/>
<path d="M1248.3 874.1h6l-1.6 -3.4h-2.8z" stroke="none"/>
<line x1="1279.2" y1="663" x2="1279.2" y2="878.3" stroke-width="1.6"/>
<path d="M1276.2 662h6l-1.6 3.4h-2.8z" stroke="none"/>
<path d="M1276.2 879.3h6l-1.6 -3.4h-2.8z" stroke="none"/>
<line x1="1302.2" y1="497.5" x2="1302.2" y2="835.4" stroke-width="1.6"/>
<path d="M1299.2 496.5h6l-1.6 3.4h-2.8z" stroke="none"/>
<path d="M1299.2 836.4h6l-1.6 -3.4h-2.8z" stroke="none"/>
<line x1="1330.1" y1="587.4" x2="1330.1" y2="858.4" stroke-width="1.6"/>
<path d="M1327.1 586.4h6l-1.6 3.4h-2.8z" stroke="none"/>
<path d="M1327.1 859.4h6l-1.6 -3.4h-2.8z" stroke="none"/>
<line x1="1353" y1="368.7" x2="1353" y2="801.8" stroke-width="1.6"/>
<path d="M1350 367.7h6l-1.6 3.4h-2.8z" stroke="none"/>
<path d="M1350 802.8h6l-1.6 -3.4h-2.8z" stroke="none"/>
<line x1="1381" y1="472.2" x2="1381" y2="826.3" stroke-width="1.6"/>
<path d="M1378 471.2h6l-1.6 3.4h-2.8z" stroke="none"/>
<path d="M1378 827.3h6l-1.6 -3.4h-2.8z" stroke="none"/>
<line x1="1403.9" y1="188.4" x2="1403.9" y2="756.3" stroke-width="1.6"/>
<path d="M1400.9 187.4h6l-1.6 3.4h-2.8z" stroke="none"/>
<path d="M1400.9 757.3h6l-1.6 -3.4h-2.8z" stroke="none"/>
<line x1="1431.8" y1="395" x2="1431.8" y2="805.9" stroke-width="1.6"/>
<path d="M1428.8 394h6l-1.6 3.4h-2.8z" stroke="none"/>
<path d="M1428.8 806.9h6l-1.6 -3.4h-2.8z" stroke="none"/>
<line x1="1454.7" y1="127.8" x2="1454.7" y2="736" stroke-width="1.6"/>
<path d="M1451.7 126.8h6l-1.6 3.4h-2.8z" stroke="none"/>
<path d="M1451.7 737h6l-1.6 -3.4h-2.8z" stroke="none"/>
<line x1="1482.6" y1="412.6" x2="1482.6" y2="808.4" stroke-width="1.6"/>
<path d="M1479.6 411.6h6l-1.6 3.4h-2.8z" stroke="none"/>
<path d="M1479.6 809.4h6l-1.6 -3.4h-2.8z" stroke="none"/>
<line x1="1505.5" y1="227.3" x2="1505.5" y2="765" stroke-width="1.6"/>
<path d="M1502.5 226.3h6l-1.6 3.4h-2.8z" stroke="none"/>
<path d="M1502.5 766h6l-1.6 -3.4h-2.8z" stroke="none"/>
<line x1="1533.5" y1="372.7" x2="1533.5" y2="798.2" stroke-width="1.6"/>
<path d="M1530.5 371.7h6l-1.6 3.4h-2.8z" stroke="none"/>
<path d="M1530.5 799.2h6l-1.6 -3.4h-2.8z" stroke="none"/>
<line x1="1556.4" y1="307" x2="1556.4" y2="780.3" stroke-width="1.6"/>
<path d="M1553.4 306h6l-1.6 3.4h-2.8z" stroke="none"/>
<path d="M1553.4 781.3h6l-1.6 -3.4h-2.8z" stroke="none"/>
<line x1="1584.4" y1="467.2" x2="1584.4" y2="828.8" stroke-width="1.6"/>
<path d="M1581.4 466.2h6l-1.6 3.4h-2.8z" stroke="none"/>
<path d="M1581.4 829.8h6l-1.6 -3.4h-2.8z" stroke="none"/>
<line x1="1607.3" y1="494" x2="1607.3" y2="833" stroke-width="1.6"/>
<path d="M1604.3 493h6l-1.6 3.4h-2.8z" stroke="none"/>
<path d="M1604.3 834h6l-1.6 -3.4h-2.8z" stroke="none"/>
<line x1="1635.2" y1="629.5" x2="1635.2" y2="870.4" stroke-width="1.6"/>
<path d="M1632.2 628.5h6l-1.6 3.4h-2.8z" stroke="none"/>
<path d="M1632.2 871.4h6l-1.6 -3.4h-2.8z" stroke="none"/>
<line x1="1658.1" y1="751" x2="1658.1" y2="903" stroke-width="1.6"/>
<path d="M1655.1 750h6l-1.6 3.4h-2.8z" stroke="none"/>
<path d="M1655.1 904h6l-1.6 -3.4h-2.8z" stroke="none"/>
<line x1="1686" y1="812.9" x2="1686" y2="921.3" stroke-width="1.6"/>
<path d="M1683 811.9h6l-1.6 3.4h-2.8z" stroke="none"/>
<path d="M1683 922.3h6l-1.6 -3.4h-2.8z" stroke="none"/>
<line x1="1709" y1="902.4" x2="1709" y2="943.5" stroke-width="1.6"/>
<path d="M1706 901.4h6l-1.6 3.4h-2.8z" stroke="none"/>
<path d="M1706 944.5h6l-1.6 -3.4h-2.8z" stroke="none"/>
</g>
<polygon points="974.1,958 1025,957.5 1075.8,956 1126.7,952 1177.5,945 1228.4,930 1279.2,905 1330.1,890 1381,857 1431.8,815 1482.6,768 1533.5,710 1584.4,533 1635.2,310 1686,121 1686,742 1635.2,790 1584.4,845 1533.5,890 1482.6,912 1431.8,925 1381,933 1330.1,940 1279.2,948 1228.4,954 1177.5,957 1126.7,957.5 1075.8,958 1025,958 974.1,958" fill="#FFB6C1" fill-opacity="0.5"/>
<polygon points="997.1,958 1047.9,957.5 1098.8,956 1149.6,952 1200.5,945 1251.3,930 1302.2,903 1353,868 1403.9,820 1454.7,756 1505.5,670 1556.4,550 1607.3,342 1658.1,150 1709,122 1709,736 1658.1,752 1607.3,796 1556.4,840 1505.5,879 1454.7,907 1403.9,925 1353,937 1302.2,944 1251.3,951 1200.5,956 1149.6,957 1098.8,957.5 1047.9,958 997.1,958" fill="#87CEEB" fill-opacity="0.5"/>
<polyline points="974.1,958 1025,957.7 1075.8,957 1126.7,954.7 1177.5,950.9 1228.4,941.8 1279.2,926.1 1330.1,914.5 1381,894.2 1431.8,868.9 1482.6,838.6 1533.5,798.2 1584.4,685.9 1635.2,545.2 1686,425.3" fill="none" stroke="#dcc3cf" stroke-opacity="0.75" stroke-width="1.2"/>
<polyline points="997.1,958 1047.9,957.7 1098.8,956.7 1149.6,954.4 1200.5,950.2 1251.3,939.9 1302.2,922.3 1353,900.4 1403.9,869.4 1454.7,827 1505.5,768.2 1556.4,686.3 1607.3,555.4 1658.1,432.9 1709,410.6" fill="none" stroke="#a9d7ec" stroke-opacity="0.85" stroke-width="1.2"/>
<g stroke="#6f6f6f" fill="none">
<line x1="955.5" y1="76" x2="955.5" y2="1000.5" stroke-width="2"/>
<line x1="1727.5" y1="76" x2="1727.5" y2="1000.5" stroke-width="2"/>
<line x1="954.5" y1="1000" x2="1728.5" y2="1000" stroke="#6a6a6a" stroke-width="4"/>
<line x1="985.6" y1="1000.5" x2="985.6" y2="1005.5" stroke-width="1.5"/>
<line x1="1036.5" y1="1000.5" x2="1036.5" y2="1005.5" stroke-width="1.5"/>
<line x1="1087.3" y1="1000.5" x2="1087.3" y2="1005.5" stroke-width="1.5"/>
<line x1="1138.2" y1="1000.5" x2="1138.2" y2="1005.5" stroke-width="1.5"/>
<line x1="1189" y1="1000.5" x2="1189" y2="1005.5" stroke-width="1.5"/>
<line x1="1239.8" y1="1000.5" x2="1239.8" y2="1005.5" stroke-width="1.5"/>
<line x1="1290.7" y1="1000.5" x2="1290.7" y2="1005.5" stroke-width="1.5"/>
<line x1="1341.5" y1="1000.5" x2="1341.5" y2="1005.5" stroke-width="1.5"/>
<line x1="1392.4" y1="1000.5" x2="1392.4" y2="1005.5" stroke-width="1.5"/>
<line x1="1443.2" y1="1000.5" x2="1443.2" y2="1005.5" stroke-width="1.5"/>
<line x1="1494.1" y1="1000.5" x2="1494.1" y2="1005.5" stroke-width="1.5"/>
<line x1="1545" y1="1000.5" x2="1545" y2="1005.5" stroke-width="1.5"/>
<line x1="1595.8" y1="1000.5" x2="1595.8" y2="1005.5" stroke-width="1.5"/>
<line x1="1646.7" y1="1000.5" x2="1646.7" y2="1005.5" stroke-width="1.5"/>
<line x1="1697.5" y1="1000.5" x2="1697.5" y2="1005.5" stroke-width="1.5"/>
<line x1="951.5" y1="958.5" x2="955.5" y2="958.5" stroke-width="1.5"/>
<line x1="951.5" y1="785.3" x2="955.5" y2="785.3" stroke-width="1.5"/>
<line x1="951.5" y1="612.2" x2="955.5" y2="612.2" stroke-width="1.5"/>
<line x1="951.5" y1="439" x2="955.5" y2="439" stroke-width="1.5"/>
<line x1="951.5" y1="265.8" x2="955.5" y2="265.8" stroke-width="1.5"/>
<line x1="951.5" y1="92.6" x2="955.5" y2="92.6" stroke-width="1.5"/>
<line x1="1727.5" y1="958.4" x2="1731.5" y2="958.4" stroke-width="1.5"/>
<line x1="1727.5" y1="721.4" x2="1731.5" y2="721.4" stroke-width="1.5"/>
<line x1="1727.5" y1="484.9" x2="1731.5" y2="484.9" stroke-width="1.5"/>
<line x1="1727.5" y1="246.8" x2="1731.5" y2="246.8" stroke-width="1.5"/>
</g>
<text x="950" y="969.1" font-size="30" text-anchor="end" fill="#646464" textLength="7" lengthAdjust="spacingAndGlyphs" >0</text>
<text x="950" y="795.9" font-size="30" text-anchor="end" fill="#646464" textLength="35" lengthAdjust="spacingAndGlyphs" >5 000</text>
<text x="950" y="622.9" font-size="30" text-anchor="end" fill="#646464" textLength="43" lengthAdjust="spacingAndGlyphs" >10 000</text>
<text x="950" y="449.6" font-size="30" text-anchor="end" fill="#646464" textLength="43" lengthAdjust="spacingAndGlyphs" >15 000</text>
<text x="950" y="276.4" font-size="30" text-anchor="end" fill="#646464" textLength="43" lengthAdjust="spacingAndGlyphs" >20 000</text>
<text x="950" y="103.2" font-size="30" text-anchor="end" fill="#646464" textLength="43" lengthAdjust="spacingAndGlyphs" >25 000</text>
<text x="1733.3" y="969" font-size="30" text-anchor="start" fill="#646464" textLength="7" lengthAdjust="spacingAndGlyphs" >0</text>
<text x="1733.3" y="732" font-size="30" text-anchor="start" fill="#646464" textLength="14.6" lengthAdjust="spacingAndGlyphs" >30</text>
<text x="1733.3" y="495.5" font-size="30" text-anchor="start" fill="#646464" textLength="14.6" lengthAdjust="spacingAndGlyphs" >60</text>
<text x="1733.3" y="257.4" font-size="30" text-anchor="start" fill="#646464" textLength="14.6" lengthAdjust="spacingAndGlyphs" >90</text>
<text transform="matrix(0.1929 -0.8988 0.3955 0.4384 996.6 1021)" font-size="28" text-anchor="end" fill="#5a5a5a" textLength="167.5" lengthAdjust="spacingAndGlyphs">25–29 years</text>
<text transform="matrix(0.1929 -0.8988 0.3955 0.4384 1047.5 1021)" font-size="28" text-anchor="end" fill="#5a5a5a" textLength="167.5" lengthAdjust="spacingAndGlyphs">30–34 years</text>
<text transform="matrix(0.1929 -0.8988 0.3955 0.4384 1098.3 1021)" font-size="28" text-anchor="end" fill="#5a5a5a" textLength="167.5" lengthAdjust="spacingAndGlyphs">35–39 years</text>
<text transform="matrix(0.1929 -0.8988 0.3955 0.4384 1149.2 1021)" font-size="28" text-anchor="end" fill="#5a5a5a" textLength="167.5" lengthAdjust="spacingAndGlyphs">40–44 years</text>
<text transform="matrix(0.1929 -0.8988 0.3955 0.4384 1200 1021)" font-size="28" text-anchor="end" fill="#5a5a5a" textLength="167.5" lengthAdjust="spacingAndGlyphs">45–49 years</text>
<text transform="matrix(0.1929 -0.8988 0.3955 0.4384 1250.8 1021)" font-size="28" text-anchor="end" fill="#5a5a5a" textLength="167.5" lengthAdjust="spacingAndGlyphs">50–54 years</text>
<text transform="matrix(0.1929 -0.8988 0.3955 0.4384 1301.7 1021)" font-size="28" text-anchor="end" fill="#5a5a5a" textLength="167.5" lengthAdjust="spacingAndGlyphs">55–59 years</text>
<text transform="matrix(0.1929 -0.8988 0.3955 0.4384 1352.5 1021)" font-size="28" text-anchor="end" fill="#5a5a5a" textLength="167.5" lengthAdjust="spacingAndGlyphs">60–64 years</text>
<text transform="matrix(0.1929 -0.8988 0.3955 0.4384 1403.4 1021)" font-size="28" text-anchor="end" fill="#5a5a5a" textLength="167.5" lengthAdjust="spacingAndGlyphs">65–69 years</text>
<text transform="matrix(0.1929 -0.8988 0.3955 0.4384 1454.2 1021)" font-size="28" text-anchor="end" fill="#5a5a5a" textLength="167.5" lengthAdjust="spacingAndGlyphs">70–74 years</text>
<text transform="matrix(0.1929 -0.8988 0.3955 0.4384 1505.1 1021)" font-size="28" text-anchor="end" fill="#5a5a5a" textLength="167.5" lengthAdjust="spacingAndGlyphs">75–79 years</text>
<text transform="matrix(0.1929 -0.8988 0.3955 0.4384 1556 1021)" font-size="28" text-anchor="end" fill="#5a5a5a" textLength="167.5" lengthAdjust="spacingAndGlyphs">80–84 years</text>
<text transform="matrix(0.1929 -0.8988 0.3955 0.4384 1606.8 1021)" font-size="28" text-anchor="end" fill="#5a5a5a" textLength="167.5" lengthAdjust="spacingAndGlyphs">85–89 years</text>
<text transform="matrix(0.1929 -0.8988 0.3955 0.4384 1657.7 1021)" font-size="28" text-anchor="end" fill="#5a5a5a" textLength="167.5" lengthAdjust="spacingAndGlyphs">90–94 years</text>
<text transform="matrix(0.1929 -0.8988 0.3955 0.4384 1708.5 1021)" font-size="28" text-anchor="end" fill="#5a5a5a" textLength="134.9" lengthAdjust="spacingAndGlyphs">95+ years</text>
<text x="15.5" y="65.5" font-size="50" fill="#000" textLength="21.5" lengthAdjust="spacingAndGlyphs" font-family="'Liberation Sans', sans-serif">A</text>
<text x="912.8" y="45.2" font-size="50" fill="#000" textLength="19.5" lengthAdjust="spacingAndGlyphs" font-family="'Liberation Sans', sans-serif">B</text>
<text transform="translate(15.5 549.5) rotate(-90) scale(1 0.5)" font-size="33.4" text-anchor="middle" fill="#1a1a1a" stroke="#1a1a1a" stroke-width="0.45" textLength="749" lengthAdjust="spacingAndGlyphs">DALYs (Disability–Adjusted Life Years) Numbers</text>
<text transform="translate(900.5 537.8) rotate(-90) scale(1 0.6)" font-size="33.9" text-anchor="middle" fill="#1a1a1a" stroke="#1a1a1a" stroke-width="0.45" textLength="258" lengthAdjust="spacingAndGlyphs">Deaths Numbers</text>
<text transform="translate(808 549) rotate(90) scale(1 0.5)" font-size="33" text-anchor="middle" fill="#1a1a1a" stroke="#1a1a1a" stroke-width="0.45" textLength="435" lengthAdjust="spacingAndGlyphs">Rate per 100,000 population</text>
<text transform="translate(1753 538.5) rotate(90) scale(1 0.5)" font-size="33" text-anchor="middle" fill="#1a1a1a" stroke="#1a1a1a" stroke-width="0.45" textLength="432" lengthAdjust="spacingAndGlyphs">Rate per 100,000 population</text>
<text x="217.6" y="1276" font-size="50" fill="#000" stroke="#000" stroke-width="0.7" font-family="'Liberation Sans', 'Noto Sans CJK SC', sans-serif" textLength="74" lengthAdjust="spacingAndGlyphs">Ages</text>
<text x="297.5" y="1280" font-size="55" fill="#000" stroke="#000" stroke-width="0.7" font-family="'Liberation Sans', 'Noto Sans CJK SC', sans-serif" textLength="30" lengthAdjust="spacingAndGlyphs">（</text>
<text x="331" y="1276" font-size="50" fill="#000" stroke="#000" stroke-width="0.7" font-family="'Liberation Sans', 'Noto Sans CJK SC', sans-serif" textLength="81" lengthAdjust="spacingAndGlyphs">Years</text>
<text x="416.1" y="1280" font-size="55" fill="#000" stroke="#000" stroke-width="0.7" font-family="'Liberation Sans', 'Noto Sans CJK SC', sans-serif" textLength="30" lengthAdjust="spacingAndGlyphs">）</text>
<text x="1151.7" y="1291" font-size="50" fill="#000" stroke="#000" stroke-width="0.7" font-family="'Liberation Sans', 'Noto Sans CJK SC', sans-serif" textLength="74" lengthAdjust="spacingAndGlyphs">Ages</text>
<text x="1230.4" y="1295" font-size="55" fill="#000" stroke="#000" stroke-width="0.7" font-family="'Liberation Sans', 'Noto Sans CJK SC', sans-serif" textLength="30" lengthAdjust="spacingAndGlyphs">（</text>
<text x="1264.5" y="1291" font-size="50" fill="#000" stroke="#000" stroke-width="0.7" font-family="'Liberation Sans', 'Noto Sans CJK SC', sans-serif" textLength="81" lengthAdjust="spacingAndGlyphs">Years</text>
<text x="1348.9" y="1295" font-size="55" fill="#000" stroke="#000" stroke-width="0.7" font-family="'Liberation Sans', 'Noto Sans CJK SC', sans-serif" textLength="30" lengthAdjust="spacingAndGlyphs">）</text>
<line x1="175.8" y1="28.7" x2="189.2" y2="28.7" stroke="#f4b9c4" stroke-width="1.6"/>
<text x="196" y="35" font-size="21" text-anchor="start" fill="#3d3d3d" textLength="95" lengthAdjust="spacingAndGlyphs" >Female(rate and 95%UI)</text>
<line x1="296.7" y1="28.7" x2="310.1" y2="28.7" stroke="#a8d8ee" stroke-width="1.6"/>
<text x="317.2" y="35" font-size="21" text-anchor="start" fill="#3d3d3d" textLength="83.8" lengthAdjust="spacingAndGlyphs" >Male(rate and 95%UI)</text>
<rect x="431.9" y="11.1" width="14.2" height="34.7" fill="#FFB6C1" stroke="#8b6a70" stroke-width="1.6"/>
<line x1="431.9" y1="45.1" x2="446.1" y2="45.1" stroke="#8b6a70" stroke-width="2.4"/>
<text x="453.2" y="36" font-size="21" text-anchor="start" fill="#3d3d3d" textLength="107.4" lengthAdjust="spacingAndGlyphs" >Female(number and 95%UI)</text>
<rect x="567" y="11.1" width="14.2" height="34.7" fill="#87CEEB" stroke="#4f7f93" stroke-width="1.6"/>
<line x1="567" y1="45.1" x2="581.2" y2="45.1" stroke="#4f7f93" stroke-width="2.4"/>
<text x="588.3" y="36" font-size="21" text-anchor="start" fill="#3d3d3d" textLength="98.7" lengthAdjust="spacingAndGlyphs" >Male(number and 95%UI)</text>
<line x1="1072.6" y1="21.3" x2="1087.7" y2="21.3" stroke="#f4b9c4" stroke-width="1.6"/>
<text x="1094.8" y="29.2" font-size="21" text-anchor="start" fill="#3d3d3d" textLength="101.4" lengthAdjust="spacingAndGlyphs" >Female(rate and 95%UI)</text>
<line x1="1203.8" y1="21.3" x2="1218" y2="21.3" stroke="#a8d8ee" stroke-width="1.6"/>
<text x="1225.1" y="29.2" font-size="21" text-anchor="start" fill="#3d3d3d" textLength="90.9" lengthAdjust="spacingAndGlyphs" >Male(rate and 95%UI)</text>
<rect x="1348.4" y="5.5" width="16.2" height="33.5" fill="#FFB6C1" stroke="#8b6a70" stroke-width="1.6"/>
<line x1="1348.4" y1="38.3" x2="1364.6" y2="38.3" stroke="#8b6a70" stroke-width="2.4"/>
<text x="1371.3" y="29.6" font-size="21" text-anchor="start" fill="#3d3d3d" textLength="116" lengthAdjust="spacingAndGlyphs" >Female(number and 95%UI)</text>
<rect x="1494" y="5.5" width="17" height="33.5" fill="#87CEEB" stroke="#4f7f93" stroke-width="1.6"/>
<line x1="1494" y1="38.3" x2="1511" y2="38.3" stroke="#4f7f93" stroke-width="2.4"/>
<text x="1516.9" y="29.6" font-size="21" text-anchor="start" fill="#3d3d3d" textLength="106.7" lengthAdjust="spacingAndGlyphs" >Male(number and 95%UI)</text>
</svg></body></html>
